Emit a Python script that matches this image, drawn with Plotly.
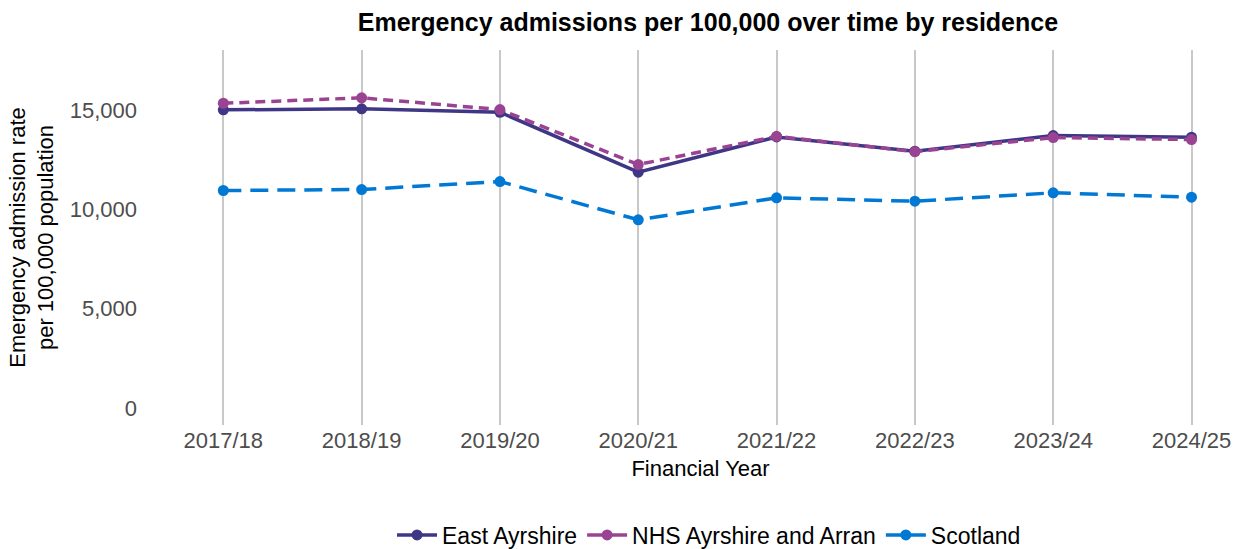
import plotly.graph_objects as go

years = ["2017/18", "2018/19", "2019/20", "2020/21", "2021/22", "2022/23", "2023/24", "2024/25"]
east_ayrshire = [15015, 15065, 14895, 11873, 13650, 12930, 13720, 13635]
nhs_ayrshire_arran = [15347, 15620, 15030, 12261, 13680, 12910, 13620, 13520]
scotland = [10952, 11002, 11405, 9476, 10584, 10413, 10836, 10614]

series = [
    ("East Ayrshire", east_ayrshire, "#3F3685", "solid"),
    ("NHS Ayrshire and Arran", nhs_ayrshire_arran, "#9B4393", "10px,6px"),
    ("Scotland", scotland, "#0078D4", "18px,9px"),
]

fig = go.Figure()
for name, vals, col, dash in series:
    fig.add_trace(go.Scatter(
        x=years, y=vals, name=name, mode="lines+markers", showlegend=False,
        line=dict(color=col, width=3.5, dash=dash),
        marker=dict(color=col, size=11),
    ))
# legend entries drawn with solid lines, as in the reference
for name, vals, col, dash in series:
    fig.add_trace(go.Scatter(
        x=years, y=[None] * len(years), name=name, mode="lines+markers",
        line=dict(color=col, width=3.5), marker=dict(color=col, size=11),
        hoverinfo="skip",
    ))

font_family = "Liberation Sans, Arial, sans-serif"
fig.update_layout(
    width=1242, height=549,
    paper_bgcolor="white", plot_bgcolor="white",
    margin=dict(l=168, r=9, t=50, b=124, autoexpand=False),
    font=dict(family=font_family, size=22, color="black"),
    title=dict(text="<b>Emergency admissions per 100,000 over time by residence</b>",
               x=0.570, xanchor="center", y=1 - 22 / 549, yanchor="middle",
               font=dict(size=25, color="black")),
    showlegend=True,
    legend=dict(orientation="h", x=0.508, xanchor="center", y=-(535 - 425) / 375, yanchor="middle",
                font=dict(size=23, color="black"), itemwidth=40),
    xaxis=dict(range=[-0.4, 7.3], showgrid=True, gridcolor="#c8c8c8", gridwidth=2,
               zeroline=False, showline=False, ticks="", automargin=False,
               tickfont=dict(size=22, color="#4d4d4d"),
               title=dict(text="Financial Year", font=dict(size=22, color="black"), standoff=8)),
    yaxis=dict(range=[-860, 18030], showgrid=False, zeroline=False, showline=False,
               tickvals=[0, 5000, 10000, 15000], ticktext=["0", "5,000", "10,000", "15,000"],
               tickfont=dict(size=22, color="#4d4d4d"), ticks="", ticklen=0,
               ticklabelstandoff=30, automargin=False,
               title=dict(text="Emergency admission rate<br>per 100,000 population",
                          font=dict(size=22, color="black"), standoff=9)),
)

fig.write_html("out.html", config={"displayModeBar": False},
               post_script="document.body.style.margin='0';")
